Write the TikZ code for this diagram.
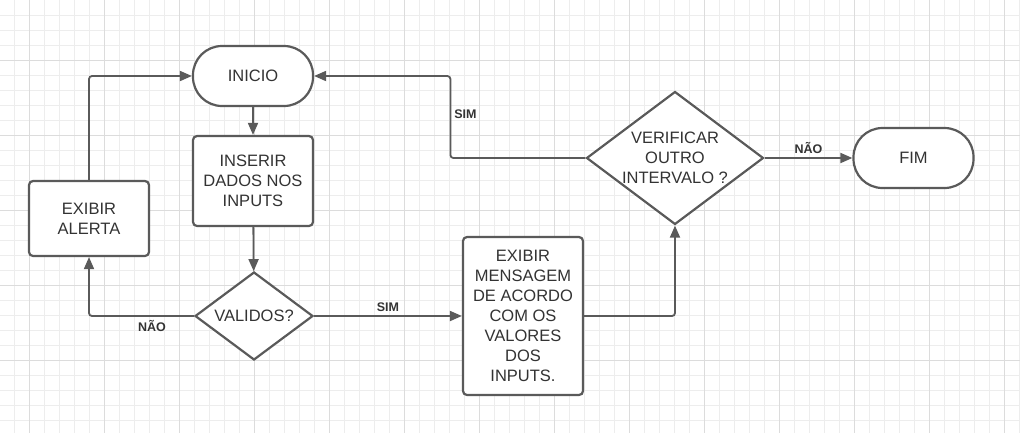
\documentclass[tikz,border=0pt]{standalone}
\usepackage{fontspec}
\setmainfont{Liberation Sans}
\usepackage{xcolor}
\usepackage{tikz}
\usetikzlibrary{positioning, arrows.meta, calc, shapes.geometric}
\definecolor{linegray}{HTML}{5A5A5A}
\definecolor{textgray}{HTML}{333333}
\definecolor{gridminor}{HTML}{EDEDED}
\definecolor{gridmajor}{HTML}{DCDCDC}

\begin{document}
\begin{tikzpicture}[x=1pt, y=-1pt,
  box/.style={draw=linegray, line width=2.2pt, rounded corners=4pt,
    fill=white, minimum width=120pt, align=center, inner sep=0pt,
    text=textgray, font=\fontsize{16.5}{20}\selectfont},
  terminal/.style={box, rounded corners=29pt, minimum height=60pt},
  decision/.style={diamond, draw=linegray, line width=2.2pt, fill=white,
    align=center, inner sep=0pt, shape aspect=1.33,
    text=textgray, font=\fontsize{16.5}{20}\selectfont},
  arrow/.style={-{Triangle[length=12pt, width=10pt]}, draw=linegray,
    line width=1.8pt, rounded corners=3pt},
  label/.style={font=\bfseries\fontsize{12.5}{14}\selectfont, text=textgray,
    inner sep=3pt}
]
\useasboundingbox (0,0) rectangle (1020,440);

% background grid
\foreach \i in {0,...,67}
  \draw[gridminor, line width=1pt] ({14.3+15*\i},0) -- ({14.3+15*\i},433);
\foreach \j in {1,...,28}
  \draw[gridminor, line width=1pt] (0,{15*\j}) -- (1020,{15*\j});
\foreach \i in {0,...,13}
  \draw[gridmajor, line width=1pt] ({29.3+75*\i},0) -- ({29.3+75*\i},433);
\foreach \j in {0,...,4}
  \draw[gridmajor, line width=1pt] (0,{60+75*\j}) -- (1020,{60+75*\j});

% flow
\node[terminal] (inicio) at (253, 76) {INICIO};
\node[box, minimum height=90pt] (inserir) at (253, 181)
  {INSERIR\\DADOS NOS\\INPUTS};
\node[decision, minimum width=118pt, minimum height=88pt] (validos) at (254, 316)
  {VALIDOS?};
\node[box, minimum height=75pt] (alerta) at (89, 218.5)
  {EXIBIR\\ALERTA};
\node[box, minimum height=158pt] (mensagem) at (523, 316)
  {EXIBIR\\MENSAGEM\\DE ACORDO\\COM OS\\VALORES\\DOS\\INPUTS.};
\node[decision, minimum width=177pt, minimum height=133pt] (verificar) at (675, 158)
  {VERIFICAR\\OUTRO\\INTERVALO ?};
\node[terminal] (fim) at (913.5, 158) {FIM};

\draw[arrow] (inicio) -- (inserir);
\draw[arrow] (inserir) -- (validos);
\draw[arrow] (validos.west) -| node[label, below, pos=0.2] {NÃO} (alerta.south);
\draw[arrow] (alerta.north) |- (inicio.west);
\draw[arrow] (validos.east) -- node[label, above] {SIM} (mensagem.west);
\draw[arrow] (mensagem.east) -| (verificar.south);
\draw[arrow] (verificar.west) -- ++(-135,0) |- node[label, right, pos=0.27] {SIM} (inicio.east);
\draw[arrow] (verificar.east) -- node[label, above] {NÃO} (fim.west);

\end{tikzpicture}
\end{document}
